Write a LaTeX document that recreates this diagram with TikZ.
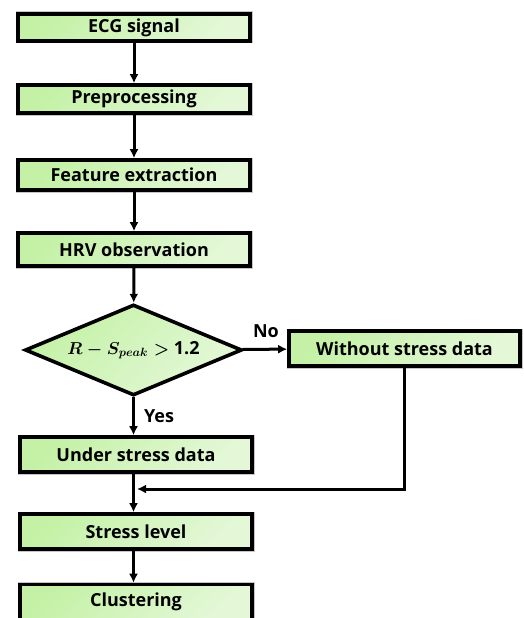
\documentclass[tikz,border=0pt]{standalone}
\usepackage{amsmath}
\usepackage{fontspec}
\setmainfont{Open Sans}
\usepackage{tikz}
\usetikzlibrary{arrows.meta,calc,positioning,shapes.geometric}

\definecolor{grA}{RGB}{196,241,166}
\definecolor{grB}{RGB}{228,248,216}

\begin{document}
\begin{tikzpicture}
[
                     x =  1pt,
                     y = -1pt,
                    ->, >= {Latex[length=9pt,width=9pt]},
            line width = 3pt,
             box/.style = { draw=black, line width=3.6pt, rectangle, inner sep=0pt,
                            minimum width=232pt, minimum height=35pt,
                            top color=grA, bottom color=grB, shading angle=45,
                            preaction={draw=gray!45, line width=5pt},
                            font=\bfseries\fontsize{18}{20}\selectfont },
             dec/.style = { draw=black, line width=3.6pt, diamond, aspect=2.4, inner sep=0pt,
                            minimum width=217pt, minimum height=91pt,
                            top color=grA, bottom color=grB, shading angle=45,
                            font=\bfseries\fontsize{18}{20}\selectfont },
            labl/.style = { draw=none, fill=none, inner sep=0pt,
                            font=\bfseries\fontsize{18}{20}\selectfont }
]

	\clip (0,0) rectangle (523,618);

	\node (1) at (134, 27.5) [box, minimum height=27pt] {ECG signal};
	\node (2) at (134, 99  ) [box, minimum height=28pt] {Preprocessing};
	\node (3) at (134,175  ) [box, minimum height=30pt] {Feature extraction};
	\node (4) at (134,249.5) [box, minimum height=33pt] {HRV observation};
	\node (5) at (133.5,350) [dec] {$\boldsymbol{R-S_{peak}>}$ 1.2};
	\node (6) at (404.5,348.5) [box, minimum width=231pt] {Without stress data};
	\node (7) at (136,454.5) [box] {Under stress data};
	\node (8) at (136,531.5) [box] {Stress level};
	\node (9) at (136,602  ) [box] {Clustering};

	\node (5l) at (266,331) [labl] {No};
	\node (7l) at (159,416) [labl] {Yes};
	\coordinate (j) at (134,489);

	\draw (1) -- (2);
	\draw (2) -- (3);
	\draw (3) -- (4);
	\draw (4) -- (5);
	\draw (5) -- (6);
	\draw (5.south) -- (5.south |- 7.north);
	\draw (7.south -| 5.south) -- (8.north -| 5.south);
	\draw[shorten >=3pt] (6.south) |- (j);
	\draw (8.south -| 5.south) -- (9.north -| 5.south);

\end{tikzpicture}
\end{document}
